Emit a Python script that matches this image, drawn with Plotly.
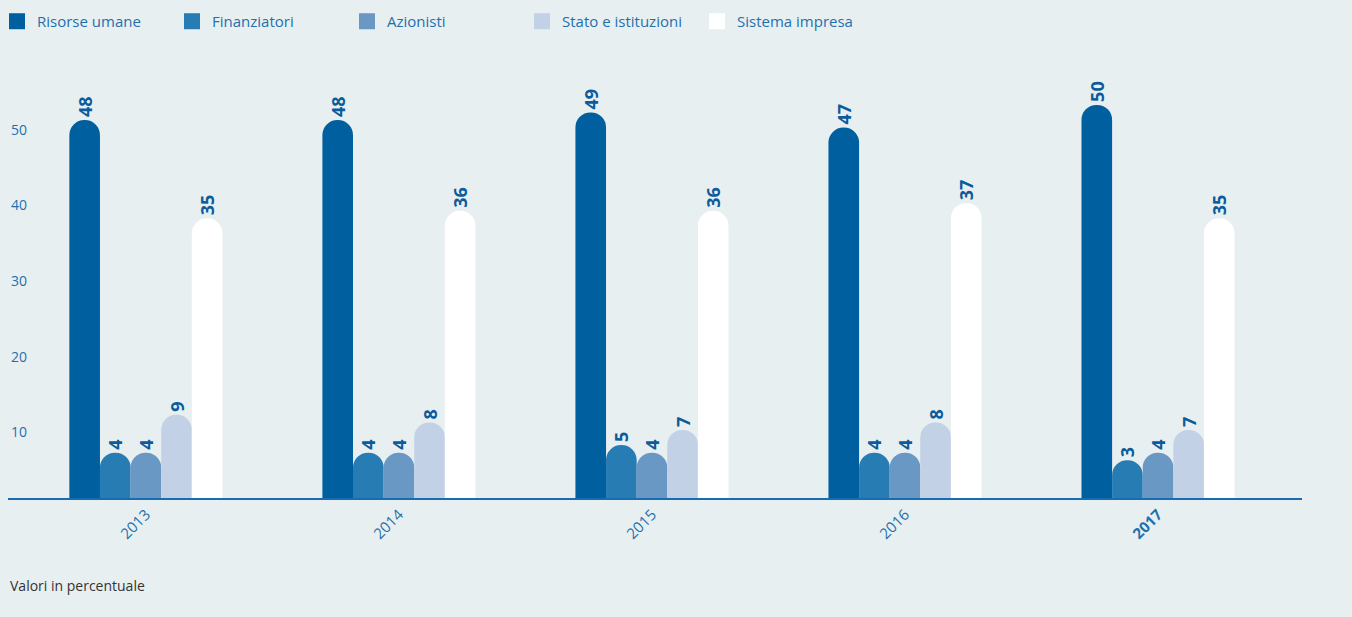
import plotly.graph_objects as go

years = ["2013", "2014", "2015", "2016", "2017"]
year_labels = ["2013", "2014", "2015", "2016", "<b>2017</b>"]

risorse_umane = [48, 48, 49, 47, 50]
finanziatori = [4, 4, 5, 4, 3]
azionisti = [4, 4, 4, 4, 4]
stato_istituzioni = [9, 8, 7, 8, 7]
sistema_impresa = [35, 36, 36, 37, 35]

series = [
    ("Risorse umane", risorse_umane, "#00609f"),
    ("Finanziatori", finanziatori, "#277cb4"),
    ("Azionisti", azionisti, "#6a98c5"),
    ("Stato e istituzioni", stato_istituzioni, "#c2d1e6"),
    ("Sistema impresa", sistema_impresa, "#ffffff"),
]

CAP = 2.0  # height (in axis units) of the rounded cap drawn above each value
FONT = "Open Sans"
BLUE_TXT = "#1f6fae"
LABEL_TXT = "#0a5c9c"

fig = go.Figure()
for name, vals, color in series:
    fig.add_trace(go.Bar(
        name=name,
        x=years,
        y=[v + CAP for v in vals],
        text=vals,
        texttemplate="<b>%{text}</b>",
        textposition="outside",
        textangle=-90,
        constraintext="none",
        cliponaxis=False,
        textfont=dict(family=FONT, size=18, color=LABEL_TXT),
        marker=dict(color=color, line=dict(width=0), cornerradius="50%"),
        hoverinfo="skip",
        showlegend=False,
    ))

# square legend swatches
for name, vals, color in series:
    fig.add_trace(go.Scatter(
        name=name,
        x=[None], y=[None],
        mode="markers",
        marker=dict(symbol="square", size=16, color=color, line=dict(width=0)),
        showlegend=True,
        hoverinfo="skip",
    ))

fig.update_layout(
    width=1352,
    height=617,
    barmode="group",
    bargap=0.395,
    bargroupgap=0,
    paper_bgcolor="#e8eff0",
    plot_bgcolor="#e8eff0",
    margin=dict(l=8, r=50, t=60, b=119, autoexpand=False),
    font=dict(family=FONT, color=BLUE_TXT),
    showlegend=True,
    legend=dict(
        orientation="h",
        x=-0.0085, xanchor="left",
        y=1.1256, yanchor="top",
        entrywidth=130, entrywidthmode="pixels",
        itemsizing="trace",
        font=dict(family=FONT, size=15, color=BLUE_TXT),
        bgcolor="rgba(0,0,0,0)",
        traceorder="normal",
    ),
    xaxis=dict(
        type="category",
        tickmode="array",
        tickvals=years,
        ticktext=year_labels,
        tickangle=-45,
        range=[-0.545, 4.569],
        showline=True,
        linecolor="#1a6cb0",
        linewidth=2,
        showgrid=False,
        ticks="",
        tickfont=dict(family=FONT, size=15, color=BLUE_TXT),
        zeroline=False,
    ),
    yaxis=dict(
        range=[0, 57.94],
        tickvals=[10, 20, 30, 40, 50],
        showgrid=False,
        zeroline=False,
        showline=False,
        ticks="",
        ticklabelposition="inside bottom",
        tickfont=dict(family=FONT, size=14, color=BLUE_TXT),
    ),
    annotations=[dict(
        text="Valori in percentuale",
        xref="paper", yref="paper",
        x=0, xanchor="left",
        y=-0.199, yanchor="middle",
        showarrow=False,
        font=dict(family=FONT, size=14, color="#333333"),
    )],
)

fig.write_html("out.html")
